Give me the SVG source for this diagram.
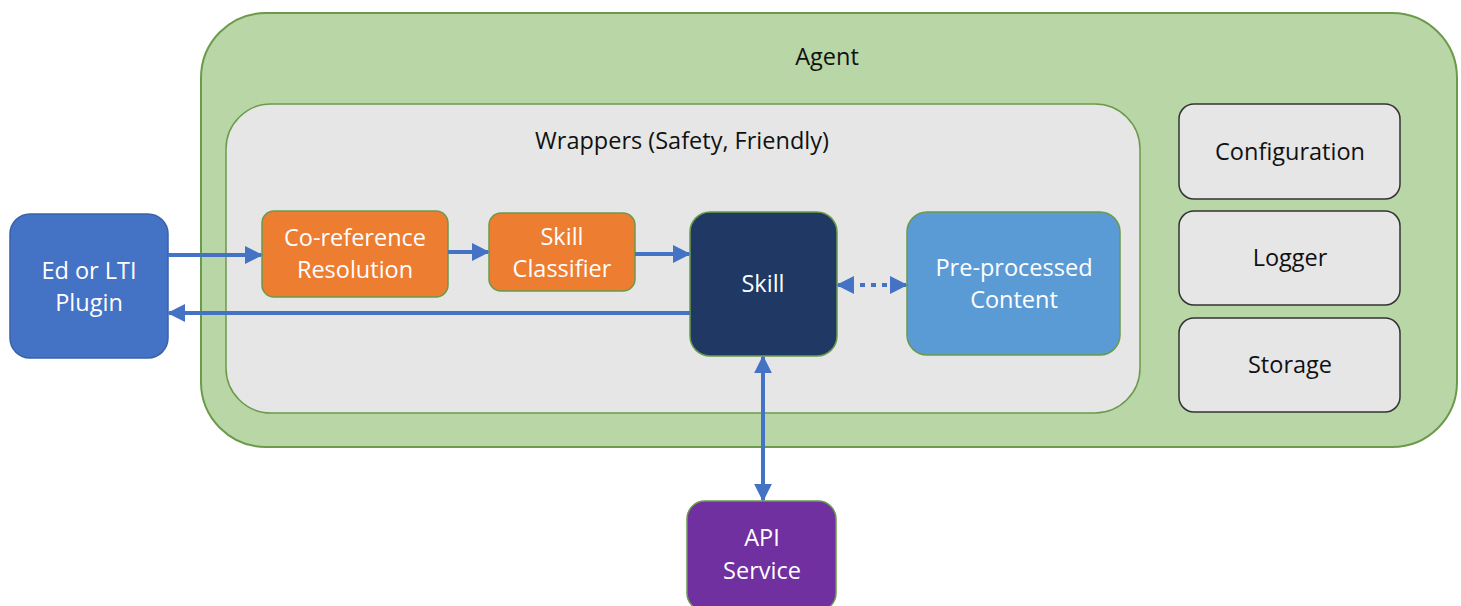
<svg xmlns="http://www.w3.org/2000/svg" width="1461" height="606" viewBox="0 0 1461 606">
<style>
text{font-family:"Open Sans","Liberation Sans",sans-serif;font-size:23.5px;text-anchor:middle}
.w{fill:#ffffff}
.d{fill:#111111}
.c{stroke:#4472c4;stroke-width:4;fill:none}
.side{fill:#e6e6e6;stroke:#333333;stroke-width:1.5}
</style>
<defs>
<marker id="ah" viewBox="0 0 10 10" refX="9" refY="5" markerWidth="4.5" markerHeight="4.5" orient="auto-start-reverse" markerUnits="strokeWidth">
<path d="M0,0 L10,5 L0,10 z" fill="#4472c4"/>
</marker>
</defs>
<g id="agent">
<rect x="201" y="13" width="1256" height="434" rx="65" fill="#b8d6a6" stroke="#6a9a4a" stroke-width="2"/>
<text x="827" y="65" class="d">Agent</text>
</g>
<g id="wrappers">
<rect x="226" y="104" width="914" height="309" rx="45" fill="#e6e6e6" stroke="#6a9a4a" stroke-width="1.5"/>
<text x="682" y="149" class="d">Wrappers (Safety, Friendly)</text>
</g>
<g id="plugin">
<rect x="10" y="214" width="158" height="144" rx="20" fill="#4472c4" stroke="#3a62a8" stroke-width="1.5"/>
<text x="89" y="279" class="w">Ed or LTI</text>
<text x="89" y="311" class="w">Plugin</text>
</g>
<g id="coref">
<rect x="262" y="211" width="186" height="86" rx="12" fill="#ed7d31" stroke="#6a9a4a" stroke-width="1.5"/>
<text x="355" y="246" class="w">Co-reference</text>
<text x="355" y="278" class="w">Resolution</text>
</g>
<g id="classifier">
<rect x="489" y="213" width="146" height="78" rx="12" fill="#ed7d31" stroke="#6a9a4a" stroke-width="1.5"/>
<text x="562" y="245" class="w">Skill</text>
<text x="562" y="277" class="w">Classifier</text>
</g>
<g id="skill">
<rect x="690" y="212" width="147" height="144" rx="20" fill="#1f3864" stroke="#6a9a4a" stroke-width="1.5"/>
<text x="763" y="292" class="w">Skill</text>
</g>
<g id="content">
<rect x="907" y="212" width="213" height="143" rx="20" fill="#5b9bd5" stroke="#6a9a4a" stroke-width="1.5"/>
<text x="1014" y="276" class="w">Pre-processed</text>
<text x="1014" y="308" class="w">Content</text>
</g>
<g id="configuration">
<rect x="1179" y="104" width="221" height="95" rx="15" class="side"/>
<text x="1290" y="160" class="d">Configuration</text>
</g>
<g id="logger">
<rect x="1179" y="211" width="221" height="94" rx="15" class="side"/>
<text x="1290" y="266" class="d">Logger</text>
</g>
<g id="storage">
<rect x="1179" y="318" width="221" height="94" rx="15" class="side"/>
<text x="1290" y="373" class="d">Storage</text>
</g>
<g id="api">
<rect x="687" y="501" width="149" height="110" rx="18" fill="#7030a0" stroke="#6a9a4a" stroke-width="1.5"/>
<text x="762" y="546" class="w">API</text>
<text x="762" y="579" class="w">Service</text>
</g>
<g id="connectors">
<line x1="168" y1="255" x2="261" y2="255" class="c" marker-end="url(#ah)"/>
<line x1="448" y1="252" x2="488" y2="252" class="c" marker-end="url(#ah)"/>
<line x1="635" y1="254" x2="689" y2="254" class="c" marker-end="url(#ah)"/>
<line x1="690" y1="313" x2="169" y2="313" class="c" marker-end="url(#ah)"/>
<line x1="838" y1="285" x2="906" y2="285" class="c" stroke-dasharray="5,6" marker-start="url(#ah)" marker-end="url(#ah)"/>
<line x1="763" y1="357" x2="763" y2="500" class="c" marker-start="url(#ah)" marker-end="url(#ah)"/>
</g>
</svg>
